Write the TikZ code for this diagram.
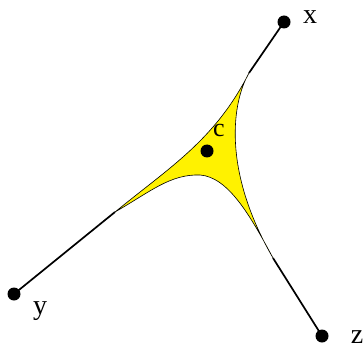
\documentclass[tikz,border=0pt]{standalone}
\usepackage{fontspec}
\setmainfont{Liberation Serif}
\begin{document}
\begin{tikzpicture}[x=1pt,y=-1pt,
  dot/.style={circle,fill=black,inner sep=0pt,minimum size=13pt},
  lbl/.style={inner sep=0pt,font=\fontsize{28}{28}\selectfont},
  edge/.style={line width=1.7pt,black},
  region/.style={fill=yellow,draw=black,line width=0.6pt}]
\useasboundingbox (0,0) rectangle (363,347);
% tips of the yellow region
\coordinate (tx) at (249,73);
\coordinate (ty) at (115,212);
\coordinate (tz) at (273,258);
\path[region] (tx) .. controls (232,102) and (222,170) .. (tz)
  .. controls (250,215) and (228,177) .. (200,175)
  .. controls (170,174) and (150,192) .. (ty)
  .. controls (170,167) and (215,140) .. (tx) -- cycle;
% points
\node[dot] (x) at (284,22) {};
\node[dot] (y) at (14,294) {};
\node[dot] (z) at (322,336) {};
\node[dot] (c) at (207,151) {};
% connectors
\draw[edge] (x.center) -- (tx);
\draw[edge] (y.center) -- (ty);
\draw[edge] (z.center) -- (tz);
% labels
\node[lbl] (lx) at (310,17) {x};
\node[lbl] (ly) at (40,311) {y};
\node[lbl] (lz) at (357,337) {z};
\node[lbl,font=\fontsize{26}{26}\selectfont] (lc) at (219,131) {c};
\end{tikzpicture}
\end{document}
